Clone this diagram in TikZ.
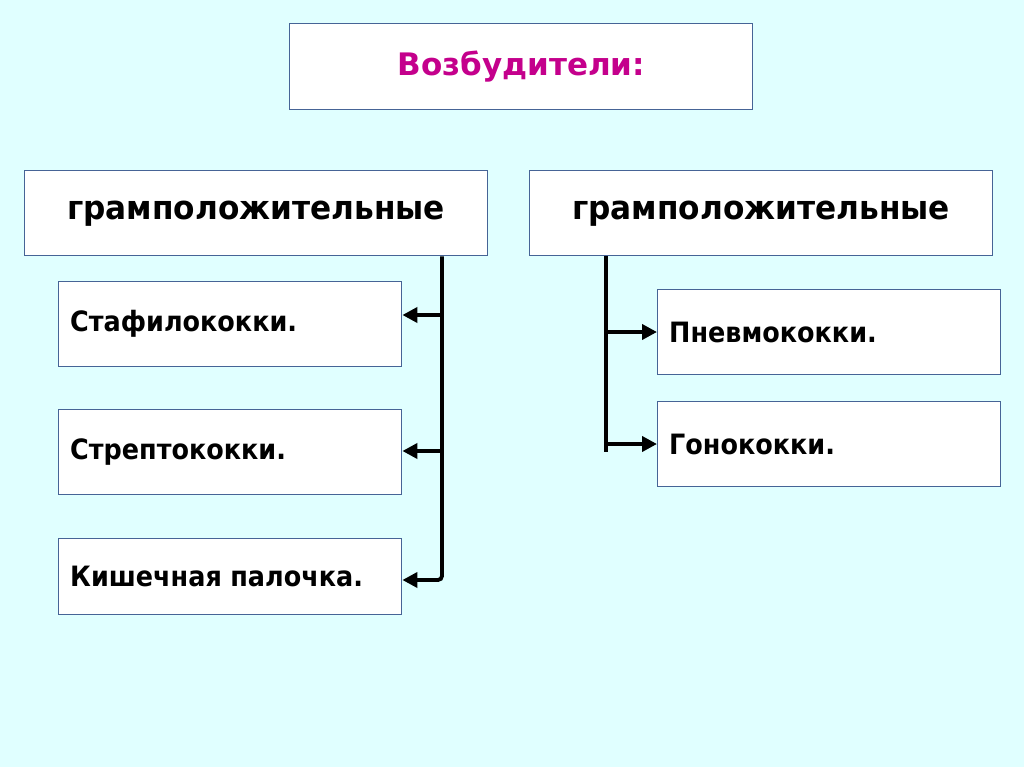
\documentclass[tikz,border=0pt]{standalone}
\usepackage{fontspec}
\usepackage{graphicx}
\setmainfont{DejaVu Sans}
\usetikzlibrary{arrows.meta,calc}
\definecolor{bgc}{RGB}{224,255,255}
\definecolor{bordc}{RGB}{70,100,150}
\definecolor{titc}{RGB}{196,0,140}
\newcommand{\itemtxt}[1]{\scalebox{0.91}[1]{#1}}
\newcommand{\headtxt}[1]{\scalebox{0.945}[1]{#1}}
\tikzset{
  box/.style={draw=bordc, line width=1.4pt, fill=white, anchor=north west, inner sep=0pt},
  item/.style={box, minimum width=343pt, minimum height=85pt, text width=320pt, align=left, font=\bfseries\fontsize{28}{32}\selectfont},
  head/.style={box, minimum width=463pt, minimum height=85pt, align=center, font=\bfseries\fontsize{33}{38}\selectfont},
  conn/.style={line width=3.8pt, black},
  arr/.style={conn, -{Triangle[length=15pt,width=15pt]}}
}
\begin{document}
\begin{tikzpicture}[x=1pt,y=-1pt]
\fill[bgc] (0,0) rectangle (1024,767);
\useasboundingbox (0,0) rectangle (1024,767);
\node[head, minimum height=86pt, text=titc, font=\bfseries\fontsize{31}{36}\selectfont] (t) at (289,23) {Возбудители:};
\node[head] (lh) at (24,170) {\headtxt{грамположительные}};
\node[head] (rh) at (529,170) {\headtxt{грамположительные}};
\node[item] (s1) at (58,281) {\itemtxt{Стафилококки.}};
\node[item] (s2) at (58,409) {\itemtxt{Стрептококки.}};
\node[item, minimum height=76pt] (s3) at (58,538) {\itemtxt{Кишечная палочка.}};
\node[item] (p1) at (657,289) {\itemtxt{Пневмококки.}};
\node[item] (p2) at (657,401) {\itemtxt{Гонококки.}};
\coordinate (jl) at (442,0);
\coordinate (jr) at (606,0);
\coordinate (rend) at (606,452);
\draw[arr, rounded corners=4pt] (lh.south -| jl) -- (jl |- 0,580) -- (s3.east |- 0,580);
\draw[arr] (jl |- 0,315) -- (s1.east |- 0,315);
\draw[arr] (jl |- 0,451) -- (s2.east |- 0,451);
\draw[conn] (rh.south -| jr) -- (rend);
\draw[arr] (jr |- 0,332) -- (p1.west |- 0,332);
\draw[arr] (jr |- 0,444) -- (p2.west |- 0,444);
\end{tikzpicture}
\end{document}
